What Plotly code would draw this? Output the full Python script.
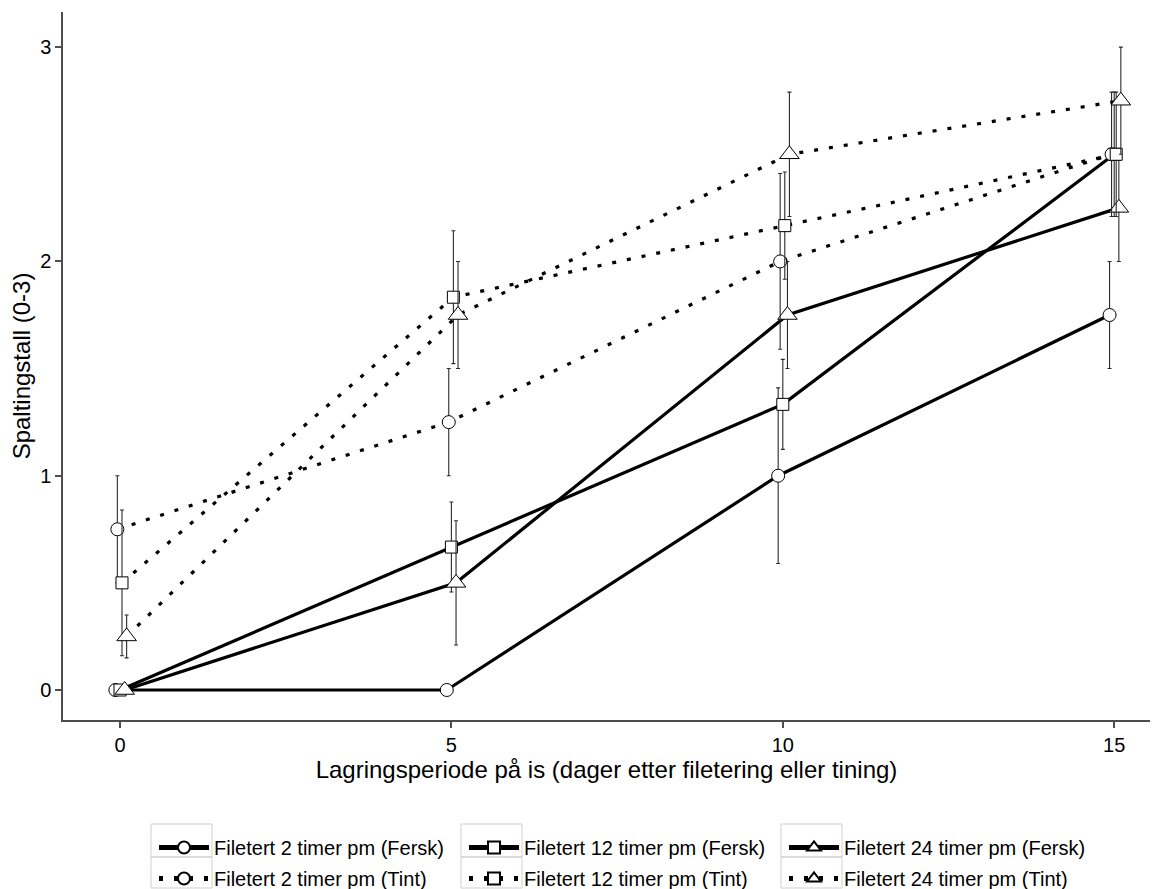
import plotly.graph_objects as go

days = [0, 5, 10, 15]

series_names = [
    "Filetert 2 timer pm (Fersk)",
    "Filetert 12 timer pm (Fersk)",
    "Filetert 24 timer pm (Fersk)",
    "Filetert 2 timer pm (Tint)",
    "Filetert 12 timer pm (Tint)",
    "Filetert 24 timer pm (Tint)",
]

fersk_2h = [0.0, 0.0, 1.0, 1.75]
fersk_12h = [0.0, 0.667, 1.333, 2.5]
fersk_24h = [0.0, 0.5, 1.75, 2.25]
tint_2h = [0.75, 1.25, 2.0, 2.5]
tint_12h = [0.5, 1.833, 2.167, 2.5]
tint_24h = [0.25, 1.75, 2.5, 2.75]

err_fersk_2h = [0.0, 0.0, 0.41, 0.25]
err_fersk_12h = [0.0, 0.21, 0.21, 0.29]
err_fersk_24h = [0.0, 0.29, 0.25, 0.25]
err_tint_2h = [0.25, 0.25, 0.41, 0.29]
err_tint_12h = [0.34, 0.31, 0.25, 0.29]
err_tint_24h = [0.1, 0.25, 0.29, 0.25]

values = [fersk_2h, fersk_12h, fersk_24h, tint_2h, tint_12h, tint_24h]
errors = [err_fersk_2h, err_fersk_12h, err_fersk_24h, err_tint_2h, err_tint_12h, err_tint_24h]
x_offsets = [-0.07, 0.0, 0.07, -0.04, 0.03, 0.1]
symbols = ["circle", "square", "triangle-up"] * 2
msizes = [13, 12, 17] * 2
dashes = ["solid"] * 3 + ["4px,11px"] * 3
legends = ["legend", "legend2", "legend3"] * 2

FONT = "Arial, 'Liberation Sans', sans-serif"
OFF = 8                      # page body margin
W, H = 1166 - OFF, 889 - OFF

fig = go.Figure()
for i in range(6):
    fig.add_trace(go.Scatter(
        x=[d + x_offsets[i] for d in days],
        y=values[i],
        name=series_names[i],
        mode="lines+markers",
        line=dict(color="black", width=3.2, dash=dashes[i]),
        marker=dict(symbol=symbols[i], size=msizes[i], color="white",
                    line=dict(color="black", width=1)),
        error_y=dict(type="data", array=errors[i], visible=True,
                     color="#2b2b2b", thickness=1.1, width=2),
        legend=legends[i],
        legendgroup=f"g{i}",
    ))

# plot area in screen pixels
L, R, T, B = 63, 1150, 12, 720
def px_x(p):
    return (p - L) / (R - L)
def px_y(p):
    return (B - p) / (B - T)

shapes = []
for bx0, bx1 in [(151, 212), (461, 522), (781, 842)]:
    for ry0, ry1 in [(824, 857), (857, 888)]:
        shapes.append(dict(type="rect", xref="paper", yref="paper",
                           x0=px_x(bx0), x1=px_x(bx1),
                           y0=px_y(ry1), y1=px_y(ry0),
                           line=dict(color="#cfcfcf", width=1)))

leg_common = dict(font=dict(family=FONT, size=20, color="black"),
                  bgcolor="rgba(0,0,0,0)", borderwidth=0,
                  xref="paper", yref="paper",
                  yanchor="top", xanchor="left", tracegroupgap=2,
                  itemwidth=50, itemsizing="constant", orientation="v")

LEG_Y = px_y(828)
fig.update_layout(
    width=W, height=H,
    margin=dict(l=L - OFF, r=1166 - R, t=T - OFF, b=889 - B, autoexpand=False),
    paper_bgcolor="white", plot_bgcolor="white",
    font=dict(family=FONT, size=19, color="black"),
    showlegend=True,
    legend=dict(x=px_x(154), y=LEG_Y, **leg_common),
    legend2=dict(x=px_x(464), y=LEG_Y, **leg_common),
    legend3=dict(x=px_x(784), y=LEG_Y, **leg_common),
    shapes=shapes,
    xaxis=dict(range=[-0.86, 15.54], tickvals=[0, 5, 10, 15],
               showgrid=False, zeroline=False, showline=True,
               linecolor="#4d4d4d", linewidth=1.5, ticks="outside",
               ticklen=6, tickcolor="#4d4d4d", tickwidth=1.5,
               tickfont=dict(family=FONT, size=20),
               title=dict(text="Lagringsperiode på is (dager etter filetering eller tining)",
                          font=dict(family=FONT, size=24), standoff=6)),
    yaxis=dict(range=[-0.14, 3.164], tickvals=[0, 1, 2, 3],
               showgrid=False, zeroline=False, showline=True,
               linecolor="#4d4d4d", linewidth=1.5, ticks="outside",
               ticklen=6, tickcolor="#4d4d4d", tickwidth=1.5,
               tickfont=dict(family=FONT, size=20),
               title=dict(text="Spaltingstall (0-3)",
                          font=dict(family=FONT, size=24), standoff=6)),
)

fig.write_html("out.html")
